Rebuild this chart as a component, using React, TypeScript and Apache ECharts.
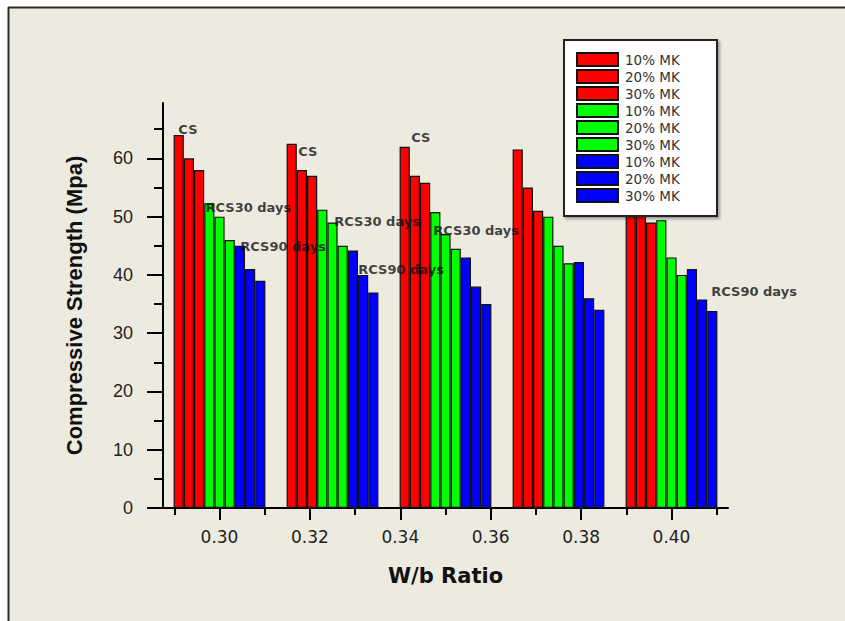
import { useEffect, useRef } from 'react';
import * as echarts from 'echarts';

// Group centre positions on the W/b axis (as drawn in the reference)
const groupX = [0.30, 0.325, 0.35, 0.375, 0.40];

// Compressive strength (CS)
const cs10 = [64.0, 62.5, 62.0, 61.5, 60.0];
const cs20 = [60.0, 58.0, 57.0, 55.0, 55.0];
const cs30 = [58.0, 57.0, 55.8, 51.0, 49.0];
// Residual compressive strength, 30 days
const rcs30_10 = [52.3, 51.2, 50.8, 50.0, 49.4];
const rcs30_20 = [50.0, 49.0, 47.0, 45.0, 43.0];
const rcs30_30 = [46.0, 45.0, 44.5, 42.0, 40.0];
// Residual compressive strength, 90 days
const rcs90_10 = [45.0, 44.2, 43.0, 42.2, 41.0];
const rcs90_20 = [41.0, 40.0, 38.0, 36.0, 35.8];
const rcs90_30 = [39.0, 37.0, 35.0, 34.0, 33.8];

// Axis ticks
const xMajorTicks = [0.30, 0.32, 0.34, 0.36, 0.38, 0.40];
const xMinorTicks = [0.29, 0.31, 0.33, 0.35, 0.37, 0.39, 0.41];
const yMajorTicks = [0, 10, 20, 30, 40, 50, 60];
const yMinorTicks = [5, 15, 25, 35, 45, 55, 65];

// Text annotations (data coordinates)
const noteText = ['CS', 'RCS30 days', 'RCS90 days', 'CS', 'RCS30 days', 'RCS90 days', 'CS', 'RCS30 days', 'RCS90 days'];
const noteX = [0.2909, 0.2969, 0.3046, 0.3174, 0.3254, 0.3307, 0.3424, 0.3473, 0.4088];
const noteY = [65.0, 51.5, 44.8, 61.2, 49.1, 41.0, 63.5, 47.6, 37.2];

const RED = '#FF0000';
const GREEN = '#00FF00';
const BLUE = '#0000FF';

const seriesDefs = [
  { name: 'CS|10% MK', values: cs10, color: RED },
  { name: 'CS|20% MK', values: cs20, color: RED },
  { name: 'CS|30% MK', values: cs30, color: RED },
  { name: 'RCS30|10% MK', values: rcs30_10, color: GREEN },
  { name: 'RCS30|20% MK', values: rcs30_20, color: GREEN },
  { name: 'RCS30|30% MK', values: rcs30_30, color: GREEN },
  { name: 'RCS90|10% MK', values: rcs90_10, color: BLUE },
  { name: 'RCS90|20% MK', values: rcs90_20, color: BLUE },
  { name: 'RCS90|30% MK', values: rcs90_30, color: BLUE },
];

const X_MIN = 0.2875;
const X_MAX = 0.4125;
const Y_MIN = 0;
const Y_MAX = 69.5;

const gridBox = { left: 163, right: 117, top: 103, bottom: 113 };

export default function App() {
  const ref = useRef<HTMLDivElement>(null);

  useEffect(() => {
    const chart = echarts.init(ref.current!, null, { renderer: 'svg' });

    const barSeries = seriesDefs.map((s) => ({
      name: s.name,
      type: 'bar',
      xAxisIndex: 0,
      yAxisIndex: 0,
      barWidth: 10.2,
      barGap: '0%',
      data: groupX.map((x, i) => [x, s.values[i]]),
      itemStyle: { color: s.color, borderColor: '#111', borderWidth: 1.2 },
      z: 2,
    }));

    const option: any = {
      animation: false,
      backgroundColor: '#ffffff',
      graphic: [
        {
          type: 'rect',
          z: -10,
          shape: { x: 8, y: 7, width: 900, height: 700 },
          style: { fill: '#EDEBE0' },
          silent: true,
        },
        {
          type: 'line',
          z: -9,
          shape: { x1: 8, y1: 7.5, x2: 845, y2: 7.5 },
          style: { stroke: '#2b2b2b', lineWidth: 2 },
          silent: true,
        },
        {
          type: 'line',
          z: -9,
          shape: { x1: 8.5, y1: 7, x2: 8.5, y2: 621 },
          style: { stroke: '#2b2b2b', lineWidth: 2 },
          silent: true,
        },
        {
          type: 'rect',
          z: 3,
          shape: { x: 564, y: 40, width: 153, height: 176 },
          style: {
            fill: '#ffffff',
            stroke: '#222',
            lineWidth: 2,
            shadowBlur: 3,
            shadowOffsetX: 2,
            shadowOffsetY: 2,
            shadowColor: 'rgba(0,0,0,0.35)',
          },
          silent: true,
        },
      ],
      grid: [
        { ...gridBox, containLabel: false },
        { ...gridBox, containLabel: false },
      ],
      legend: {
        orient: 'vertical',
        left: 576,
        top: 52,
        padding: 0,
        itemWidth: 41,
        itemHeight: 13,
        itemGap: 2,
        icon: 'rect',
        data: seriesDefs.map((s) => s.name),
        formatter: (name: string) => name.split('|')[1],
        textStyle: {
          fontFamily: 'DejaVu Sans',
          fontSize: 13.5,
          color: '#333',
          padding: [0, 0, 0, 2],
        },
        z: 4,
      },
      xAxis: [
        {
          type: 'value',
          gridIndex: 0,
          min: X_MIN,
          max: X_MAX,
          position: 'bottom',
          name: 'W/b Ratio',
          nameLocation: 'middle',
          nameGap: 57,
          nameTextStyle: { fontFamily: 'DejaVu Sans', fontWeight: 'bold', fontSize: 21, color: '#111' },
          axisLine: { show: true, lineStyle: { color: '#000', width: 2 } },
          axisTick: { show: true, customValues: xMajorTicks, length: 12, lineStyle: { color: '#000', width: 2 } },
          axisLabel: {
            customValues: xMajorTicks,
            formatter: (v: number) => v.toFixed(2),
            fontFamily: 'DejaVu Sans',
            fontSize: 17,
            color: '#222',
            margin: 20,
          },
          splitLine: { show: false },
        },
        {
          type: 'value',
          gridIndex: 1,
          min: X_MIN,
          max: X_MAX,
          position: 'bottom',
          axisLine: { show: false },
          axisTick: { show: true, customValues: xMinorTicks, length: 7, lineStyle: { color: '#000', width: 2 } },
          axisLabel: { show: false },
          splitLine: { show: false },
        },
      ],
      yAxis: [
        {
          type: 'value',
          gridIndex: 0,
          min: Y_MIN,
          max: Y_MAX,
          position: 'left',
          name: 'Compressive Strength (Mpa)',
          nameLocation: 'middle',
          nameGap: 78,
          nameTextStyle: { fontFamily: 'Liberation Sans', fontWeight: 'bold', fontSize: 22, color: '#111' },
          axisLine: { show: true, lineStyle: { color: '#000', width: 2 } },
          axisTick: { show: true, customValues: yMajorTicks, length: 16, lineStyle: { color: '#000', width: 2 } },
          axisLabel: {
            customValues: yMajorTicks,
            fontFamily: 'Liberation Sans',
            fontSize: 18,
            color: '#222',
            margin: 30,
          },
          splitLine: { show: false },
        },
        {
          type: 'value',
          gridIndex: 1,
          min: Y_MIN,
          max: Y_MAX,
          position: 'left',
          axisLine: { show: false },
          axisTick: { show: true, customValues: yMinorTicks, length: 9, lineStyle: { color: '#000', width: 2 } },
          axisLabel: { show: false },
          splitLine: { show: false },
        },
      ],
      series: [
        ...barSeries,
        {
          name: 'notes',
          type: 'scatter',
          xAxisIndex: 0,
          yAxisIndex: 0,
          symbolSize: 0,
          silent: true,
          z: 3,
          data: noteX.map((x, i) => ({ value: [x, noteY[i]], name: noteText[i] })),
          label: {
            show: true,
            position: 'right',
            distance: 0,
            formatter: (p: any) => p.name,
            fontFamily: 'DejaVu Sans',
            fontWeight: 'bold',
            fontSize: 13,
            color: '#111',
          },
        },
      ],
    };

    chart.setOption(option);
    return () => chart.dispose();
  }, []);

  return (
    <div
      ref={ref}
      style={{ position: 'absolute', left: 0, top: 0, width: 845, height: 621 }}
    />
  );
}
